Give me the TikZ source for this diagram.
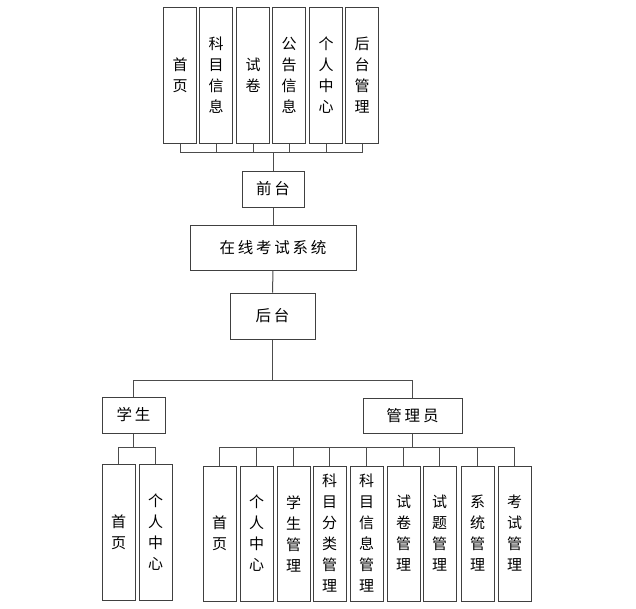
\documentclass[tikz,border=0pt]{standalone}
\usepackage{fontspec}
\usepackage{tikz}
\newfontfamily\cjk{Noto Sans CJK SC}
\newfontfamily\cjkw{Noto Sans CJK SC}[LetterSpace=18]
\tikzset{
	box/.style={draw=black!75, line width=1pt, fill=white, inner sep=0pt},
	vbox/.style={box, minimum width=33pt, minimum height=136pt, align=center,
		font=\cjk\fontsize{15}{21}\selectfont},
	hbox/.style={box, font=\cjkw\fontsize{15.5}{18}\selectfont},
	link/.style={draw=black!70, line width=1pt},
}
\begin{document}
\begin{tikzpicture}[x=1pt, y=-1pt]
	\useasboundingbox (0,0) rectangle (636,608);
	
	\node[hbox, minimum width=62pt, minimum height=36pt] (qt) at (273,189) {前台};
	\node[hbox, minimum width=166pt, minimum height=45pt] (sys) at (273,247.5) {在线考试系统};
	\node[hbox, minimum width=85pt, minimum height=46pt] (ht) at (272.5,316) {后台};
	\node[hbox, minimum width=63pt, minimum height=36pt] (xs) at (133.5,415) {学生};
	\node[hbox, minimum width=99pt, minimum height=35pt] (gly) at (412.5,415.5) {管理员};
	
	\foreach \x/\txt [count=\i] in {180/首\\页, 216/科\\目\\信\\息, 253/试\\卷,
			289/公\\告\\信\\息, 326/个\\人\\中\\心, 362/后\\台\\管\\理} {
		\node[vbox] (t\i) at (\x,75) {\txt};
		\draw[link] (t\i.south) -- ++(0,9) -| (qt.north);
	}
	
	\foreach \x/\txt [count=\i] in {118.5/首\\页, 155.5/个\\人\\中\\心} {
		\node[vbox] (s\i) at (\x,532) {\txt};
		\draw[link] (xs.south) -- ++(0,14) -| (s\i.north);
	}
	
	\foreach \x/\txt [count=\i] in {219.5/首\\页, 256.5/个\\人\\中\\心, 293.5/学\\生\\管\\理,
			329.5/科\\目\\分\\类\\管\\理, 366.5/科\\目\\信\\息\\管\\理, 403.5/试\\卷\\管\\理,
			439.5/试\\题\\管\\理, 477.5/系\\统\\管\\理, 514.5/考\\试\\管\\理} {
		\node[vbox, minimum height=135pt] (a\i) at (\x,533.5) {\txt};
		\draw[link] (gly.south) -- ++(0,14) -| (a\i.north);
	}
	
	\draw[link] (qt.south) -- (sys.north);
	\draw[link] (sys.south) -- (ht.north);
	\draw[link] (ht.south) -- ++(0,41) -| (xs.north);
	\draw[link] (ht.south) -- ++(0,41) -| (gly.north);
\end{tikzpicture}
\end{document}
